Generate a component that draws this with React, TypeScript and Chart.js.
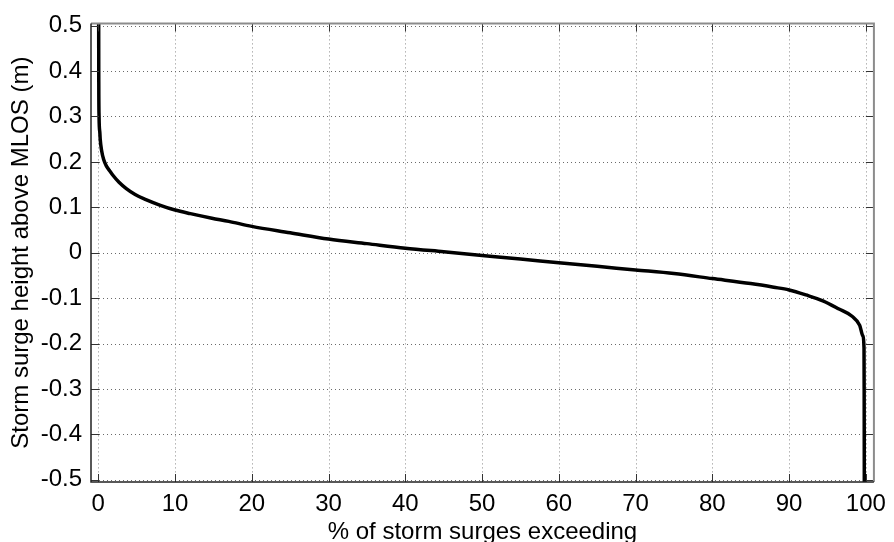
import React, { useEffect, useRef } from "react";
import { Chart, registerables } from "chart.js";

Chart.register(...registerables);

// Exceedance curve (percent of storm surges exceeding vs. surge height)
const PERCENT_EXCEEDING = [
  0.05, 0.06, 0.1, 0.2, 0.25, 0.43, 0.7, 1.08, 1.5, 1.93, 2.7, 3.65, 4.8, 6.2, 8,
  10, 12, 14.8, 17, 20, 25, 30, 35, 40, 45, 50, 55, 60, 65, 70, 75, 80, 85, 88,
  90, 92.2, 94.4, 96.5, 98.2, 99.2, 99.6, 99.76, 99.78, 99.79, 99.8,
];
const SURGE_HEIGHT = [
  0.52, 0.4, 0.3, 0.265, 0.25, 0.225, 0.205, 0.19, 0.18, 0.17, 0.155, 0.141,
  0.128, 0.117, 0.105, 0.094, 0.086, 0.076, 0.069, 0.058, 0.044, 0.03, 0.02,
  0.01, 0.002, -0.006, -0.014, -0.022, -0.03, -0.038, -0.046, -0.057, -0.068,
  -0.076, -0.082, -0.093, -0.106, -0.124, -0.14, -0.16, -0.183, -0.21, -0.3,
  -0.42, -0.52,
];

const X_TICKS = [0, 10, 20, 30, 40, 50, 60, 70, 80, 90, 100];
const Y_TICKS = [-0.5, -0.4, -0.3, -0.2, -0.1, 0, 0.1, 0.2, 0.3, 0.4, 0.5];

const X_TITLE = "% of storm surges exceeding";
const Y_TITLE = "Storm surge height above MLOS (m)";

const FONT = "'Liberation Sans', Arial, Helvetica, sans-serif";

const matlabAxes = {
  id: "matlabAxes",
  beforeDatasetsDraw(chart: any) {
    const { ctx, chartArea: a, scales } = chart;
    const xs = scales.x;
    const ys = scales.y;
    ctx.save();
    ctx.lineWidth = 1;
    ctx.setLineDash([1, 3]);
    ctx.strokeStyle = "#8a8a8a";
    for (const v of X_TICKS) {
      const px = Math.round(xs.getPixelForValue(v)) + 0.5;
      ctx.beginPath();
      ctx.moveTo(px, a.top);
      ctx.lineTo(px, a.bottom);
      ctx.stroke();
    }
    ctx.strokeStyle = "#6a6a6a";
    for (const v of Y_TICKS) {
      const py = Math.round(ys.getPixelForValue(v)) + 0.5;
      ctx.beginPath();
      ctx.moveTo(a.left, py);
      ctx.lineTo(a.right, py);
      ctx.stroke();
    }
    ctx.restore();
  },
  afterDatasetsDraw(chart: any) {
    const { ctx, chartArea: a, scales } = chart;
    const xs = scales.x;
    const ys = scales.y;
    const L = 8;
    ctx.save();
    ctx.setLineDash([]);
    ctx.lineWidth = 1;
    ctx.strokeStyle = "#333";
    for (const v of X_TICKS) {
      const px = Math.round(xs.getPixelForValue(v)) + 0.5;
      ctx.beginPath();
      ctx.moveTo(px, a.bottom);
      ctx.lineTo(px, a.bottom - L);
      ctx.moveTo(px, a.top);
      ctx.lineTo(px, a.top + L);
      ctx.stroke();
    }
    for (const v of Y_TICKS) {
      const py = Math.round(ys.getPixelForValue(v)) + 0.5;
      ctx.beginPath();
      ctx.moveTo(a.left, py);
      ctx.lineTo(a.left + L, py);
      ctx.moveTo(a.right, py);
      ctx.lineTo(a.right - L, py);
      ctx.stroke();
    }
    ctx.lineWidth = 2;
    ctx.strokeStyle = "#8c8c8c";
    ctx.beginPath();
    ctx.moveTo(a.left, a.top);
    ctx.lineTo(a.right, a.top);
    ctx.lineTo(a.right, a.bottom);
    ctx.stroke();
    ctx.lineWidth = 1.5;
    ctx.strokeStyle = "#222";
    ctx.beginPath();
    ctx.moveTo(a.left, a.top);
    ctx.lineTo(a.left, a.bottom);
    ctx.lineTo(a.right, a.bottom);
    ctx.stroke();
    ctx.restore();
  },
};

export default function App() {
  const ref = useRef<HTMLCanvasElement | null>(null);

  useEffect(() => {
    if (!ref.current) return;
    const data = PERCENT_EXCEEDING.map((x, i) => ({ x, y: SURGE_HEIGHT[i] }));
    const chart = new Chart(ref.current, {
      type: "line",
      data: {
        datasets: [
          {
            data,
            borderColor: "#000",
            borderWidth: 3.5,
            pointRadius: 0,
            cubicInterpolationMode: "monotone",
            fill: false,
          },
        ],
      },
      options: {
        animation: false,
        responsive: false,
        maintainAspectRatio: false,
        layout: { padding: { top: 21, right: 12, left: 0, bottom: 0 } },
        plugins: {
          legend: { display: false },
          tooltip: { enabled: false },
        },
        scales: {
          x: {
            type: "linear",
            min: -0.95,
            max: 101.05,
            afterBuildTicks: (s: any) => {
              s.ticks = X_TICKS.map((v) => ({ value: v }));
            },
            afterFit: (s: any) => {
              s.height = 60;
            },
            grid: { display: false, drawTicks: false },
            border: { display: false },
            ticks: {
              color: "#000",
              padding: 8,
              autoSkip: false,
              maxRotation: 0,
              font: { family: FONT, size: 24 },
              callback: (v: any) => String(v),
            },
            title: {
              display: true,
              text: X_TITLE,
              color: "#000",
              padding: 0,
              font: { family: FONT, size: 24, lineHeight: 0.8 },
            },
          },
          y: {
            type: "linear",
            min: -0.505,
            max: 0.505,
            afterBuildTicks: (s: any) => {
              s.ticks = Y_TICKS.map((v) => ({ value: v }));
            },
            afterFit: (s: any) => {
              s.width = 91;
            },
            grid: { display: false, drawTicks: false },
            border: { display: false },
            ticks: {
              color: "#000",
              padding: 9,
              autoSkip: false,
              font: { family: FONT, size: 24 },
              callback: (v: any) => {
                const n = Number(v);
                return Math.abs(n) < 1e-9 ? "0" : n.toFixed(1);
              },
            },
            title: {
              display: true,
              text: Y_TITLE,
              color: "#000",
              padding: { top: 7, bottom: 0 },
              font: { family: FONT, size: 24 },
            },
          },
        },
      },
      plugins: [matlabAxes],
    } as any);
    return () => chart.destroy();
  }, []);

  return (
    <div style={{ position: "fixed", left: 0, top: 0, width: 894, height: 542, background: "#fff" }}>
      <canvas ref={ref} width={894} height={542} style={{ display: "block" }} />
    </div>
  );
}
